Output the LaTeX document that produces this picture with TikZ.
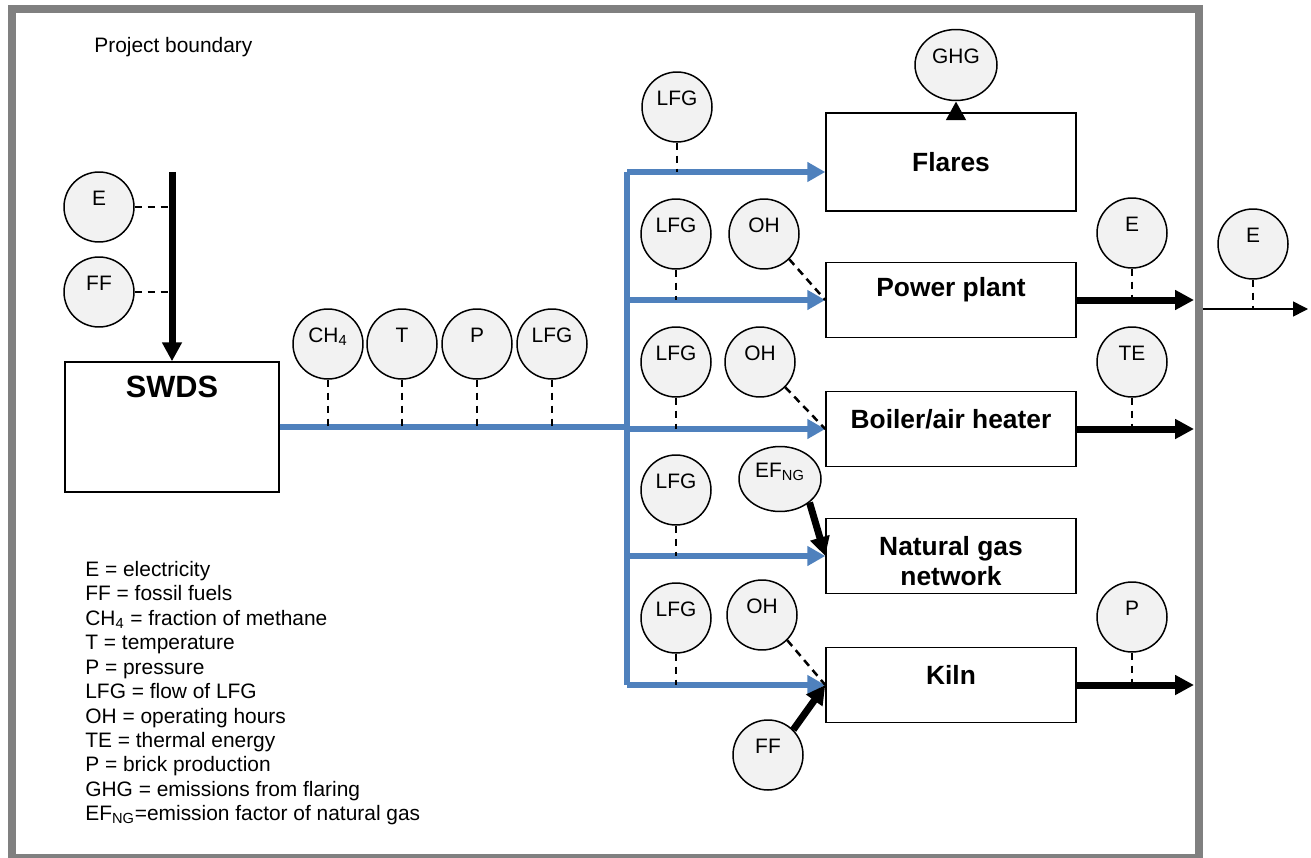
\documentclass[tikz,border=0pt]{standalone}
\usepackage{fontspec}
\setmainfont{Liberation Sans}
\usetikzlibrary{arrows.meta, shapes.geometric}
\definecolor{flowblue}{RGB}{79,129,189}
\definecolor{meterfill}{RGB}{242,242,242}
\definecolor{boundgray}{RGB}{128,128,128}

\begin{document}
\begin{tikzpicture}[x=0.02cm, y=-0.02cm,
            every node/.style={font=\fontsize{11.9}{13.9}\selectfont},
            meter/.style={circle, draw, line width=0.03cm, fill=meterfill, minimum size=1.4cm, inner sep=0pt, text height=0.3cm, text depth=0.36cm},
            unit/.style={draw, line width=0.03cm, minimum width=5cm, minimum height=1.5cm},
            unittext/.style={font=\fontsize{15}{17.5}\selectfont\bfseries, align=center},
            flow/.style={flowblue, line width=0.13cm},
            flowarrow/.style={flow, -{Triangle[length=0.36cm, width=0.38cm]}},
            feed/.style={line width=0.14cm, -{Triangle[length=0.38cm, width=0.38cm]}},
            tap/.style={line width=0.05cm, dash pattern=on 0.15cm off 0.11cm}]
            \useasboundingbox (0,0) rectangle (1311,858);
            \draw[boundgray, line width=0.16cm] (12,9.5) rectangle (1199,858);
            \node[anchor=west, inner sep=0pt] (title) at (94,47) {Project boundary};
            \node[unit, minimum width=4.28cm, minimum height=2.6cm, label={[unittext, font=\fontsize{17.5}{20}\selectfont\bfseries, yshift=0.8cm]center:SWDS}] (swds) at (172,427) {};
            \node[unit, minimum height=1.96cm, label={[unittext]center:Flares}] (flares) at (951,162) {};
            \node[unit, label={[unittext, yshift=0.2cm]center:Power plant}] (power) at (951,300) {};
            \node[unit, label={[unittext, yshift=0.2cm]center:Boiler/air heater}] (boiler) at (951,429) {};
            \node[unit, label={[unittext, yshift=-0.1cm]center:Natural gas\\network}] (ng) at (951,556) {};
            \node[unit, label={[unittext, yshift=0.2cm]center:Kiln}] (kiln) at (951,685) {};
            \node[meter] (ein) at (99,207) {E};
            \node[meter] (ffin) at (99,292) {FF};
            \node[meter] (ch4) at (328,344) {CH\textsubscript{4}};
            \node[meter] (temp) at (402,344) {T};
            \node[meter] (pres) at (477,344) {P};
            \node[meter] (lfgmain) at (552,344) {LFG};
            \node[meter] (lfgfl) at (677,107) {LFG};
            \node[meter, ellipse, minimum width=1.64cm, minimum height=1.42cm] (ghg) at (956,65) {GHG};
            \node[meter] (lfgpp) at (676,234) {LFG};
            \node[meter] (ohpp) at (764,234) {OH};
            \node[meter] (lfgbh) at (676,362) {LFG};
            \node[meter] (ohbh) at (760,362) {OH};
            \node[meter] (lfgng) at (676,490) {LFG};
            \node[meter, ellipse, minimum width=1.64cm, minimum height=1.3cm] (efng) at (780,479) {EF\textsubscript{NG}};
            \node[meter] (lfgk) at (676,618) {LFG};
            \node[meter] (ohk) at (762,615) {OH};
            \node[meter] (ffk) at (768,755) {FF};
            \node[meter] (epp) at (1132,233) {E};
            \node[meter] (ete) at (1132,362) {TE};
            \node[meter] (pk) at (1132,617) {P};
            \node[meter] (eout) at (1253,244) {E};
            \coordinate (feedtop) at (172,172);
            \coordinate (trunktop) at (627,172);
            \coordinate (bound) at (1194,0);
            \coordinate (exitin) at (1203,309);
            \coordinate (exitout) at (1308,309);
            \draw[feed] (feedtop) -- (swds.north);
            \draw[tap] (ein.east) -- (ein.east -| feedtop);
            \draw[tap] (ffin.east) -- (ffin.east -| feedtop);
            \draw[flow] (swds.east) -- (swds.east -| trunktop);
            \draw[flow] (trunktop) -- (trunktop |- kiln.west);
            \draw[flowarrow] (trunktop) -- (trunktop -| flares.west);
            \draw[flowarrow] (power.west -| trunktop) -- (power.west);
            \draw[flowarrow] (boiler.west -| trunktop) -- (boiler.west);
            \draw[flowarrow] (ng.west -| trunktop) -- (ng.west);
            \draw[flowarrow] (kiln.west -| trunktop) -- (kiln.west);
            \draw[tap] (ch4.south) -- (ch4.south |- swds.east);
            \draw[tap] (temp.south) -- (temp.south |- swds.east);
            \draw[tap] (pres.south) -- (pres.south |- swds.east);
            \draw[tap] (lfgmain.south) -- (lfgmain.south |- swds.east);
            \draw[tap] (lfgfl.south) -- (lfgfl.south |- trunktop);
            \draw[tap] (lfgpp.south) -- (lfgpp.south |- power.west);
            \draw[tap] (ohpp.south east) -- (power.west);
            \draw[tap] (lfgbh.south) -- (lfgbh.south |- boiler.west);
            \draw[tap] (ohbh.south east) -- (boiler.west);
            \draw[tap] (lfgng.south) -- (lfgng.south |- ng.west);
            \draw[tap] (lfgk.south) -- (lfgk.south |- kiln.west);
            \draw[tap] (ohk.south east) -- (kiln.west);
            \draw[feed] (efng.south east) -- (ng.west);
            \draw[feed] (ffk.north east) -- (kiln.west);
            \draw[feed] (ghg.south |- flares.north) -- (ghg.south);
            \draw[feed] (power.east) -- (power.east -| bound);
            \draw[feed] (boiler.east) -- (boiler.east -| bound);
            \draw[feed] (kiln.east) -- (kiln.east -| bound);
            \draw[tap] (epp.south) -- (epp.south |- power.east);
            \draw[tap] (ete.south) -- (ete.south |- boiler.east);
            \draw[tap] (pk.south) -- (pk.south |- kiln.east);
            \draw[line width=0.03cm, -{Triangle[length=0.3cm, width=0.3cm]}] (exitin) -- (exitout);
            \draw[tap] (eout.south) -- (eout.south |- exitin);
            \node[anchor=north west, align=left, inner sep=0pt] (legend) at (85,561) {E = electricity\\FF = fossil fuels\\CH\textsubscript{4} = fraction of methane\\T = temperature\\P = pressure\\LFG = flow of LFG\\OH = operating hours\\TE = thermal energy\\P = brick production\\GHG = emissions from flaring\\EF\textsubscript{NG}=emission factor of natural gas};
        \end{tikzpicture}
\end{document}
